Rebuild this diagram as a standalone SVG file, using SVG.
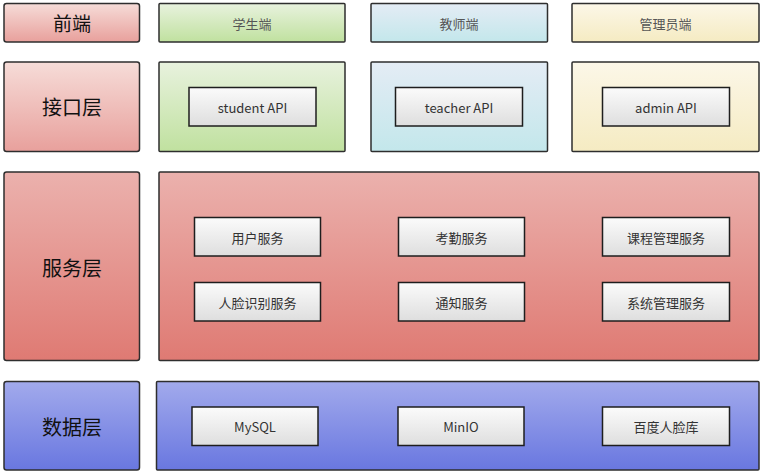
<svg xmlns="http://www.w3.org/2000/svg" width="761" height="472" viewBox="0 0 761 472">
<defs>
<linearGradient id="gRed" x1="0" y1="0" x2="0" y2="1"><stop offset="0" stop-color="#f6dcd8"/><stop offset="1" stop-color="#e8a09c"/></linearGradient>
<linearGradient id="gRed2" x1="0" y1="0" x2="0" y2="1"><stop offset="0" stop-color="#ebb1ad"/><stop offset="1" stop-color="#df7a73"/></linearGradient>
<linearGradient id="gGreen" x1="0" y1="0" x2="0" y2="1"><stop offset="0" stop-color="#e8f2de"/><stop offset="1" stop-color="#c0e19f"/></linearGradient>
<linearGradient id="gBlue" x1="0" y1="0" x2="0" y2="1"><stop offset="0" stop-color="#e4ecf5"/><stop offset="1" stop-color="#c3e7eb"/></linearGradient>
<linearGradient id="gYellow" x1="0" y1="0" x2="0" y2="1"><stop offset="0" stop-color="#fcf7e8"/><stop offset="1" stop-color="#f5ebc2"/></linearGradient>
<linearGradient id="gPurple" x1="0" y1="0" x2="0" y2="1"><stop offset="0" stop-color="#a2aaec"/><stop offset="1" stop-color="#6977e0"/></linearGradient>
<linearGradient id="gWhite" x1="0" y1="0" x2="0" y2="1"><stop offset="0" stop-color="#fbfbfb"/><stop offset="1" stop-color="#dedede"/></linearGradient>
</defs>
<style>
.o{stroke:#2e2e2e;stroke-width:1.5}
.i{fill:url(#gWhite);stroke:#1e1e1e;stroke-width:1.5}
text{font-family:"Noto Sans CJK SC","Noto Sans",sans-serif;text-anchor:middle;dominant-baseline:central}
.big{font-size:19px;fill:#111}
.top{font-size:13px;fill:#555}
.lbl{font-size:13px;fill:#333}
</style>
<rect width="761" height="472" fill="#fff"/>

<g id="frontend-label"><rect class="o" x="4" y="3.5" width="135.5" height="38.5" rx="2.5" fill="url(#gRed)"/><text class="big" x="72" y="22">前端</text></g>
<g id="student-client"><rect class="o" x="159" y="3.5" width="186" height="38.5" rx="1" fill="url(#gGreen)"/><text class="top" x="252" y="23">学生端</text></g>
<g id="teacher-client"><rect class="o" x="371" y="3.5" width="176.5" height="38.5" rx="1" fill="url(#gBlue)"/><text class="top" x="459" y="23">教师端</text></g>
<g id="admin-client"><rect class="o" x="572" y="3.5" width="187" height="38.5" rx="1" fill="url(#gYellow)"/><text class="top" x="665.5" y="23">管理员端</text></g>

<g id="api-label"><rect class="o" x="4" y="62" width="135.5" height="89.5" rx="2.5" fill="url(#gRed)"/><text class="big" x="72" y="106.5" style="font-size:20px">接口层</text></g>
<g id="student-api-group"><rect class="o" x="159" y="62" width="186" height="89.5" rx="1" fill="url(#gGreen)"/>
<g id="student-api"><rect class="i" x="189" y="87.5" width="127" height="38.5"/><text class="lbl" x="252.5" y="107">student API</text></g></g>
<g id="teacher-api-group"><rect class="o" x="371" y="62" width="176.5" height="89.5" rx="1" fill="url(#gBlue)"/>
<g id="teacher-api"><rect class="i" x="395.5" y="87.5" width="127" height="38.5"/><text class="lbl" x="459" y="107">teacher API</text></g></g>
<g id="admin-api-group"><rect class="o" x="572" y="62" width="187" height="89.5" rx="1" fill="url(#gYellow)"/>
<g id="admin-api"><rect class="i" x="602.5" y="87.5" width="127" height="38.5"/><text class="lbl" x="666" y="107">admin API</text></g></g>

<g id="service-label"><rect class="o" x="4" y="172" width="135.5" height="188.5" rx="2.5" fill="url(#gRed2)"/><text class="big" x="72" y="267" style="font-size:20px">服务层</text></g>
<g id="service-group"><rect class="o" x="159" y="172" width="600" height="188.5" rx="1" fill="url(#gRed2)"/>
<g id="user-service"><rect class="i" x="194.5" y="217.5" width="126" height="38.5"/><text class="lbl" x="257.5" y="237">用户服务</text></g>
<g id="attendance-service"><rect class="i" x="398.5" y="217.5" width="126" height="38.5"/><text class="lbl" x="461.5" y="237">考勤服务</text></g>
<g id="course-service"><rect class="i" x="602.5" y="217.5" width="127" height="38.5"/><text class="lbl" x="666" y="237">课程管理服务</text></g>
<g id="face-service"><rect class="i" x="194.5" y="282.5" width="126" height="38.5"/><text class="lbl" x="257.5" y="302">人脸识别服务</text></g>
<g id="notice-service"><rect class="i" x="398.5" y="282.5" width="126" height="38.5"/><text class="lbl" x="461.5" y="302">通知服务</text></g>
<g id="system-service"><rect class="i" x="602.5" y="282.5" width="127" height="38.5"/><text class="lbl" x="666" y="302">系统管理服务</text></g></g>

<g id="data-label"><rect class="o" x="4" y="381.5" width="135.5" height="88.5" rx="2.5" fill="url(#gPurple)"/><text class="big" x="72" y="426" style="font-size:20px">数据层</text></g>
<g id="data-group"><rect class="o" x="156.5" y="381.5" width="602.5" height="88.5" rx="1" fill="url(#gPurple)"/>
<g id="mysql"><rect class="i" x="192" y="407" width="126" height="38.5"/><text class="lbl" x="255" y="426.5">MySQL</text></g>
<g id="minio"><rect class="i" x="398" y="407" width="126" height="38.5"/><text class="lbl" x="461" y="426.5">MinIO</text></g>
<g id="baidu-face"><rect class="i" x="602.5" y="407" width="127" height="38.5"/><text class="lbl" x="666" y="426.5">百度人脸库</text></g></g>

<g id="connectors"></g>
</svg>
